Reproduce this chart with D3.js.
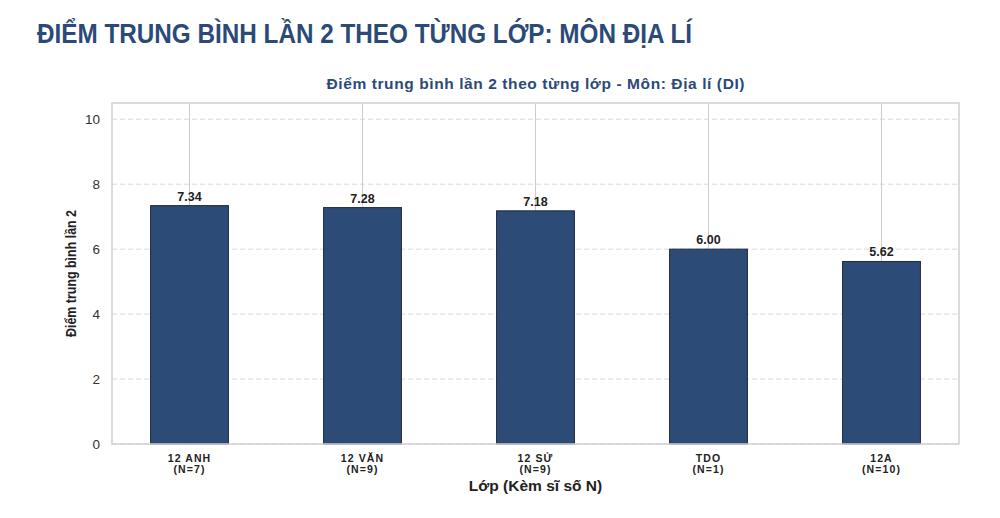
<!DOCTYPE html>
<html>
<head>
<meta charset="utf-8">
<script src="https://cdn.jsdelivr.net/npm/d3@7"></script>
<style>
  body { margin: 0; background: #fff; }
  text { font-family: "Liberation Sans", Arial, sans-serif; }
</style>
</head>
<body>
<div id="chart"></div>
<script>
// data
const classes = ["12 ANH", "12 VĂN", "12 SỬ", "TDO", "12A"];
const counts = [7, 9, 9, 1, 10];
const scores = [7.34, 7.28, 7.18, 6.00, 5.62];
const yTicks = [0, 2, 4, 6, 8, 10];

const W = 1000, H = 518;
const margin = { top: 103, right: 41, bottom: 74, left: 112 };
const width = W - margin.left - margin.right;
const height = H - margin.top - margin.bottom;

const svg = d3.select("#chart").append("svg")
    .attr("width", W)
    .attr("height", H);

// big page title (condensed look)
svg.append("text")
    .attr("x", 37)
    .attr("y", 43)
    .attr("font-size", 27)
    .attr("font-weight", "bold")
    .attr("fill", "#2b4a78")
    .attr("textLength", 655)
    .attr("lengthAdjust", "spacingAndGlyphs")
    .text("ĐIỂM TRUNG BÌNH LẦN 2 THEO TỪNG LỚP: MÔN ĐỊA LÍ");

const g = svg.append("g")
    .attr("transform", "translate(" + margin.left + "," + margin.top + ")");

const x = d3.scaleBand()
    .domain(classes)
    .range([0, width])
    .paddingInner(0.55)
    .paddingOuter(0.223);

const y = d3.scaleLinear()
    .domain([0, 10.5])
    .range([height, 0]);

// horizontal dashed grid
g.selectAll(".hgrid")
    .data(yTicks)
    .enter().append("line")
    .attr("class", "hgrid")
    .attr("x1", 0)
    .attr("x2", width)
    .attr("y1", d => y(d))
    .attr("y2", d => y(d))
    .attr("stroke", "#ddd6e6")
    .attr("stroke-width", 1)
    .attr("stroke-dasharray", "5,3");

// vertical grid at bar centres
g.selectAll(".vgrid")
    .data(classes)
    .enter().append("line")
    .attr("class", "vgrid")
    .attr("x1", d => x(d) + x.bandwidth() / 2)
    .attr("x2", d => x(d) + x.bandwidth() / 2)
    .attr("y1", 0)
    .attr("y2", height)
    .attr("stroke", "#cfc8d6")
    .attr("stroke-width", 1);

// bars
g.selectAll(".bar")
    .data(scores)
    .enter().append("rect")
    .attr("class", "bar")
    .attr("x", (d, i) => x(classes[i]))
    .attr("y", d => y(d))
    .attr("width", x.bandwidth())
    .attr("height", d => height - y(d))
    .attr("fill", "#2c4b77")
    .attr("stroke", "#1e2b3d")
    .attr("stroke-width", 1);

// value labels
g.selectAll(".val")
    .data(scores)
    .enter().append("text")
    .attr("class", "val")
    .attr("x", (d, i) => x(classes[i]) + x.bandwidth() / 2)
    .attr("y", d => y(d) - 5)
    .attr("text-anchor", "middle")
    .attr("font-size", 12.5)
    .attr("font-weight", "bold")
    .attr("fill", "#222")
    .text(d => d.toFixed(2));

// frame
g.append("rect")
    .attr("x", 0)
    .attr("y", 0)
    .attr("width", width)
    .attr("height", height)
    .attr("fill", "none")
    .attr("stroke", "#cfcfd4")
    .attr("stroke-width", 1.5);

// y axis
const yAxis = g.append("g")
    .call(d3.axisLeft(y).tickValues(yTicks).tickSize(0).tickPadding(12));
yAxis.select(".domain").remove();
yAxis.selectAll("text")
    .attr("font-size", 13.5)
    .attr("fill", "#333");

// x axis with two-line labels
const xAxis = g.append("g")
    .attr("transform", "translate(0," + height + ")")
    .call(d3.axisBottom(x).tickSize(0).tickFormat(""));
xAxis.select(".domain").remove();
xAxis.selectAll(".tick").each(function (d, i) {
    const t = d3.select(this).append("text")
        .attr("text-anchor", "middle")
        .attr("font-size", 10.5)
        .attr("font-weight", "bold")
        .attr("letter-spacing", 1.1)
        .attr("fill", "#222");
    t.append("tspan").attr("x", 0).attr("y", 18).text(d);
    t.append("tspan").attr("x", 0).attr("y", 29).text("(N=" + counts[i] + ")");
});

// chart subtitle
g.append("text")
    .attr("x", width / 2)
    .attr("y", -14)
    .attr("text-anchor", "middle")
    .attr("font-size", 15.5)
    .attr("font-weight", "bold")
    .attr("fill", "#2b4a78")
    .attr("textLength", 418)
    .attr("lengthAdjust", "spacing")
    .text("Điểm trung bình lần 2 theo từng lớp - Môn: Địa lí (DI)");

// axis titles
g.append("text")
    .attr("x", width / 2)
    .attr("y", height + 47)
    .attr("text-anchor", "middle")
    .attr("font-size", 15.5)
    .attr("font-weight", "bold")
    .attr("fill", "#222")
    .text("Lớp (Kèm sĩ số N)");

g.append("text")
    .attr("transform", "translate(-36," + (height / 2) + ") rotate(-90)")
    .attr("text-anchor", "middle")
    .attr("font-size", 14)
    .attr("font-weight", "bold")
    .attr("fill", "#222")
    .attr("textLength", 127)
    .attr("lengthAdjust", "spacingAndGlyphs")
    .text("Điểm trung bình lần 2");
</script>
</body>
</html>
